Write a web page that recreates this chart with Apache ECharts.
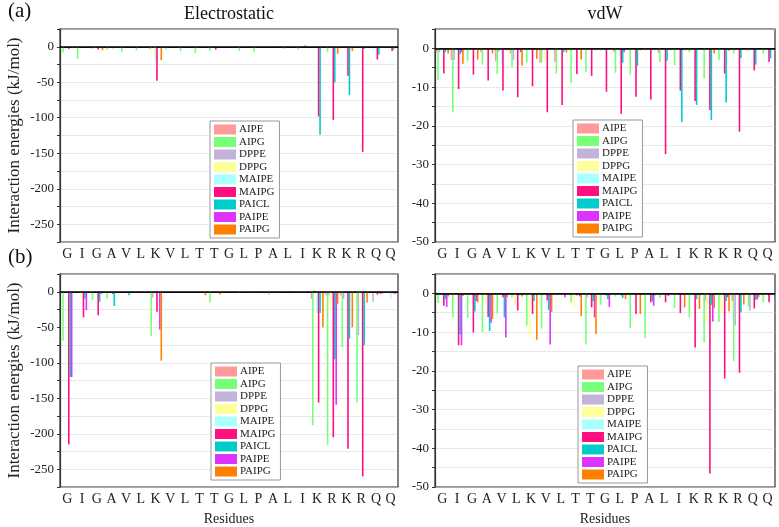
<!DOCTYPE html>
<html>
<head>
<meta charset="utf-8">
<script src="https://cdn.jsdelivr.net/npm/echarts@6/dist/echarts.min.js"></script>
<style>
  html, body { margin: 0; padding: 0; background: #fff; }
  #chart { width: 779px; height: 527px; }
</style>
</head>
<body>
<div id="chart"></div>
<script>
var residues = ['G', 'I', 'G', 'A', 'V', 'L', 'K', 'V', 'L', 'T', 'T', 'G', 'L', 'P', 'A', 'L', 'I', 'K', 'R', 'K', 'R', 'Q', 'Q']
var seriesNames = ['AIPE', 'AIPG', 'DPPE', 'DPPG', 'MAIPE', 'MAIPG', 'PAICL', 'PAIPE', 'PAIPG']
var seriesColors = ['#ff9a9a', '#77ff77', '#c3b3d9', '#ffff99', '#aaffff', '#ff0f80', '#00cccc', '#dd33ff', '#ff8000']

// (a) Electrostatic
var elecA_AIPE  = [0, 0, 0, 0, 0, 0, -3, 0, 0, 0, 0, 0, 0, 0, 0, 0, 0, 0, 0, 0, 0, 0, 0]
var elecA_AIPG  = [-8, -17, -3, -4, -7, -5, -2, -4, -6, -9, -6, 0, -6, -7, 0, -3, -4, 0, -7, 0, 0, 0, -1]
var elecA_DPPE  = [0, 0, 0, 0, 0, 0, 0, 0, 0, 0, 0, 0, 0, 0, 0, 0, 0, 0, 0, 0, 0, 0, 0]
var elecA_DPPG  = [0, 0, -1, 0, 0, 0, -10, 0, 0, 0, 0, 0, 0, 0, 0, 0, 0, 0, 0, 0, 0, 0, 0]
var elecA_MAIPE = [0, 0, 0, 0, 0, 0, -22, 0, 0, 0, 0, 0, 0, 0, 0, 0, 0, 0, 0, 0, 0, 0, 0]
var elecA_MAIPG = [-3, 0, -4, -2, 0, 0, -48, -1, 0, -1, -4, 0, 0, 0, 1, 0, 0, -98, -103, -41, -148, -18, -6]
var elecA_PAICL = [0, 0, 0, 0, 0, 0, 0, 0, 0, 0, 0, 0, 0, 0, 0, 0, 2, -124, -50, -68, -3, -11, -4]
var elecA_PAIPE = [0, 0, 0, 0, 0, 0, 0, 0, 0, 0, 0, 0, 0, 0, 0, 0, 0, 0, 0, 0, 0, 0, 0]
var elecA_PAIPG = [-2, 0, -5, -1, 0, 0, -19, 0, 0, 0, 0, 0, 0, 0, 0, 0, 0, 0, -10, -6, 0, 0, 0]

// (a) vdW
var vdwA_AIPE  = [-1, -3, 0, -1, -3.3, -1.3, 0, -3.8, -3.5, 0, 0, 0, -1, 0, 0, -1.2, 0, 0, 0, 0, 0, 0, 0]
var vdwA_AIPG  = [-8.2, -16.5, -3.2, -4.2, -6.6, -4.9, -3.7, -3.7, -6.5, -9, -6.2, -0.5, -6.3, -6.8, -0.5, -3.5, -4.4, -1, -7.8, -3.1, -1.3, -0.6, -1.3]
var vdwA_DPPE  = [-1, -3, 0, 0, -1, -3, 0, 0, 0, 0, 0, 0, 0, 0, 0, 0, 0, 0, 0, 0, 0, 0, 0]
var vdwA_DPPG  = [0, 0, 0, 0, 0, 0, 0, -3.5, 0, 0, 0, 0, 0, 0, 0, 0, 0, 0, 0, 0, 0, 0, 0]
var vdwA_MAIPE = [0, 0, 0, 0, -4, 0, 0, 0, 0, 0, 0, 0, -2, 0, 0, 0, 0, 0, 0, 0, 0, 0, 0]
var vdwA_MAIPG = [-6.5, -10.5, -6.8, -8.3, -10.9, -12.6, -9.8, -16.5, -14.6, -6.6, -7.1, -11.2, -16.9, -12.5, -13.2, -27.3, -10.9, -13.6, -15.9, -6.5, -21.5, -5.7, -3.5]
var vdwA_PAICL = [-1, -1.5, 0, 0, 0, 0, 0, 0, -1, 0, 0, 0, -3.7, -4.5, 0, -3.2, -19, -14.6, -18.5, -14, -2.5, -4.2, -2.6]
var vdwA_PAIPE = [0, -1, 0, 0, 0, -1, 0, 0, 0, 0, 0, 0, -1, 0, 0, 0, 0, 0, 0, 0, 0, 0, 0]
var vdwA_PAIPG = [-1.3, -4, -2.9, -1.3, -0.5, -4.5, -2.7, 0, -1.1, -2.9, -0.5, 0, 0, -0.5, 0, -0.4, -0.5, 0, -1.3, -0.6, 0, 0, 0]

// (b) Electrostatic
var elecB_AIPE  = [0, 0, 0, 0, 0, 0, 0, 0, 0, 0, 0, 0, 0, 0, 0, 0, 0, -10, -5, -5, 0, 0, 0]
var elecB_AIPG  = [-69, 0, -12, -10, 0, 0, -62, 0, 0, 0, -15, 0, -2, -1, -4, 0, -1, -188, -216, -78, -156, 0, -2]
var elecB_DPPE  = [0, 0, 0, 0, 0, 0, -8, 0, 0, 0, 0, 0, 0, 0, 0, 0, 0, 2, -5, -10, -61, -14, 0]
var elecB_DPPG  = [0, -8, 0, 0, 0, 0, 0, 0, 0, 0, 0, 0, 0, 0, 0, 0, 0, 0, -26, 0, -17, 0, 0]
var elecB_MAIPE = [0, 0, 0, 0, 0, 0, 0, 0, 0, 0, 0, 0, 0, 0, 0, 0, 0, -30, 0, 0, 0, 0, -10]
var elecB_MAIPG = [-215, -36, -33, -3, 0, -2, -28, 0, 0, 0, 0, 0, 0, 0, 0, -2, 0, -156, -205, -221, -260, -4, -2]
var elecB_PAICL = [-120, -10, -14, -20, -5, 0, 0, 0, 0, 0, 0, 0, 0, 0, -2, 0, 0, -30, -95, -66, -75, 0, 0]
var elecB_PAIPE = [-120, -26, -3, 0, 0, 0, -53, 0, 0, 0, -2, 0, 0, 0, 0, 0, 0, 0, -159, 0, 0, -3, -3]
var elecB_PAIPG = [0, 0, 0, 0, 0, 0, -97, 0, 0, -5, -4, 0, 0, -2, 0, 0, 0, -50, -17, -50, -15, -3, 0]

// (b) vdW
var vdwB_AIPE  = [0, 0, 0, 0, 0, 0, 0, 0, 0, 0, 0, 0, 0, 0, 0, 0, 0, 0, 0, 0, -2, 0, 0]
var vdwB_AIPG  = [-2.5, -6.1, -6.4, -10, -5.2, -1, -8.3, -9.1, -0.5, -2.3, -13.2, -2.9, -0.8, -9, -11.5, -1.2, -3.8, -6.2, -12.7, -7.4, -17.5, -3.5, -2.3]
var vdwB_DPPE  = [0, 0, 0, 0, 0, 0, 0, 0, 0, 0, -1, 0, 0, 0, 0, 0, 0, 0, -2, 0, -8.3, -4.5, 0]
var vdwB_DPPG  = [0, 0, 0, -2, 0, -3, -11.5, 0, 0, -3.5, 0, 0, 0, 0, 0, 0, 0, 0, -7.5, -5, 0, 0, 0]
var vdwB_MAIPE = [0, 0, 0, 0, 0, 0, 0, 0, 0, 0, 0, 0, 0, 0, 0, 0, 0, 0, 0, 0, 0, 0, 0]
var vdwB_MAIPG = [-3.2, -13.4, -10.1, -6.1, -1, -4.4, -5.3, -1.8, 0, -0.5, -3.6, -0.5, -0.5, -5.3, -2.3, -2.3, -5.1, -14, -46.5, -22, -20.5, -3.9, -2.3]
var vdwB_PAICL = [-1.5, -10.6, -4.7, -9.7, -6.2, -0.5, -2, -4.3, 0, 0, -2, -1.5, -1.2, 0, -2, 0, 0, -1.5, -3, -2, -4.9, -1.7, 0]
var vdwB_PAIPE = [-3.5, -13.4, -2, -7.6, -11.4, 0, 0, -13.2, -1, -0.8, -6.2, -3.5, 0, 0, -3.2, -0.7, 0, 0, -7.3, -1, 0, -1.6, 0]
var vdwB_PAIPG = [-0.8, -0.7, -2.3, -6.6, -1, -0.8, -12, -4.8, 0, -5.9, -10.5, 0, -1.5, -5.3, -0.5, 0, -3.6, -4, -3.8, -4.6, -2.9, -1, -0.3]

var panelData = [
  [elecA_AIPE, elecA_AIPG, elecA_DPPE, elecA_DPPG, elecA_MAIPE, elecA_MAIPG, elecA_PAICL, elecA_PAIPE, elecA_PAIPG],
  [vdwA_AIPE, vdwA_AIPG, vdwA_DPPE, vdwA_DPPG, vdwA_MAIPE, vdwA_MAIPG, vdwA_PAICL, vdwA_PAIPE, vdwA_PAIPG],
  [elecB_AIPE, elecB_AIPG, elecB_DPPE, elecB_DPPG, elecB_MAIPE, elecB_MAIPG, elecB_PAICL, elecB_PAIPE, elecB_PAIPG],
  [vdwB_AIPE, vdwB_AIPG, vdwB_DPPE, vdwB_DPPG, vdwB_MAIPE, vdwB_MAIPG, vdwB_PAICL, vdwB_PAIPE, vdwB_PAIPG]
]

var font = 'Liberation Serif'
var grids = [
  { left: 60, top: 29, width: 338, height: 213 },
  { left: 435, top: 29, width: 340, height: 213 },
  { left: 60, top: 274, width: 338, height: 213 },
  { left: 435, top: 274, width: 340, height: 213 }
]
var legendPos = [[210, 121], [573, 120], [211, 363], [578, 366]]

function makeX(i) {
  return {
    type: 'category',
    gridIndex: i,
    data: residues,
    name: i >= 2 ? 'Residues' : '',
    nameLocation: 'middle',
    nameGap: 25,
    nameTextStyle: { fontFamily: font, fontSize: 14, color: '#222' },
    axisLine: { lineStyle: { color: '#333', width: 1.2 } },
    axisTick: { alignWithLabel: true, length: 4, lineStyle: { color: '#333' } },
    axisLabel: { interval: 0, fontFamily: font, fontSize: 14, color: '#222', margin: 5 },
    splitLine: { show: false }
  }
}

function makeY(i) {
  var elec = i % 2 === 0
  return {
    type: 'value',
    gridIndex: i,
    min: elec ? -275 : -50,
    max: elec ? 25 : 5,
    interval: elec ? 25 : 5,
    name: elec ? 'Interaction energies (kJ/mol)' : '',
    nameLocation: 'middle',
    nameGap: 37,
    nameTextStyle: { fontFamily: font, fontSize: 17, color: '#222' },
    axisLine: { show: true, lineStyle: { color: '#333', width: 1.2 } },
    axisTick: { show: true, length: 3, lineStyle: { color: '#333' } },
    axisLabel: {
      fontFamily: font, fontSize: 13, color: '#222', margin: 6,
      formatter: function (v) {
        var step = elec ? 50 : 10
        return v % step === 0 && v <= 0 ? String(v) : ''
      }
    },
    splitLine: { show: true, lineStyle: { color: '#c8c8c8', type: 'dotted', width: 0.8 } }
  }
}

var series = []
panelData.forEach(function (sets, p) {
  sets.forEach(function (vals, s) {
    var item = {
      name: seriesNames[s],
      type: 'bar',
      xAxisIndex: p,
      yAxisIndex: p,
      data: vals,
      barWidth: 1.6,
      barGap: '-10%',
      itemStyle: { color: seriesColors[s] },
      animation: false
    }
    if (s === 0) {
      item.markLine = {
        silent: true,
        symbol: 'none',
        label: { show: false },
        lineStyle: { color: '#000', width: 1.6, type: 'solid' },
        data: [{ yAxis: 0 }],
        animation: false
      }
    }
    series.push(item)
  })
})

var legends = legendPos.map(function (pos) {
  return {
    orient: 'vertical',
    left: pos[0],
    top: pos[1],
    data: seriesNames,
    icon: 'rect',
    itemWidth: 22,
    itemHeight: 10,
    itemGap: 1.5,
    padding: [3, 5, 3, 4],
    borderColor: '#999',
    borderWidth: 1,
    backgroundColor: '#fff',
    textStyle: { fontFamily: font, fontSize: 11, color: '#222', padding: [0, 0, 0, -2] }
  }
})

var chart = echarts.init(document.getElementById('chart'))
chart.setOption({
  animation: false,
  grid: grids.map(function (g) {
    return Object.assign({ show: true, borderColor: '#333', borderWidth: 1.2, backgroundColor: 'transparent' }, g)
  }),
  xAxis: [0, 1, 2, 3].map(makeX),
  yAxis: [0, 1, 2, 3].map(makeY),
  legend: legends,
  graphic: [
    { type: 'text', left: 8, top: 1, style: { text: '(a)', font: '21px "Liberation Serif"', fill: '#111' } },
    { type: 'text', left: 8, top: 247, style: { text: '(b)', font: '21px "Liberation Serif"', fill: '#111' } },
    { type: 'text', x: 229, y: 5, style: { text: 'Electrostatic', font: '18px "Liberation Serif"', fill: '#111', textAlign: 'center' } },
    { type: 'text', x: 605, y: 5, style: { text: 'vdW', font: '18px "Liberation Serif"', fill: '#111', textAlign: 'center' } }
  ],
  series: series
})
</script>
</body>
</html>
